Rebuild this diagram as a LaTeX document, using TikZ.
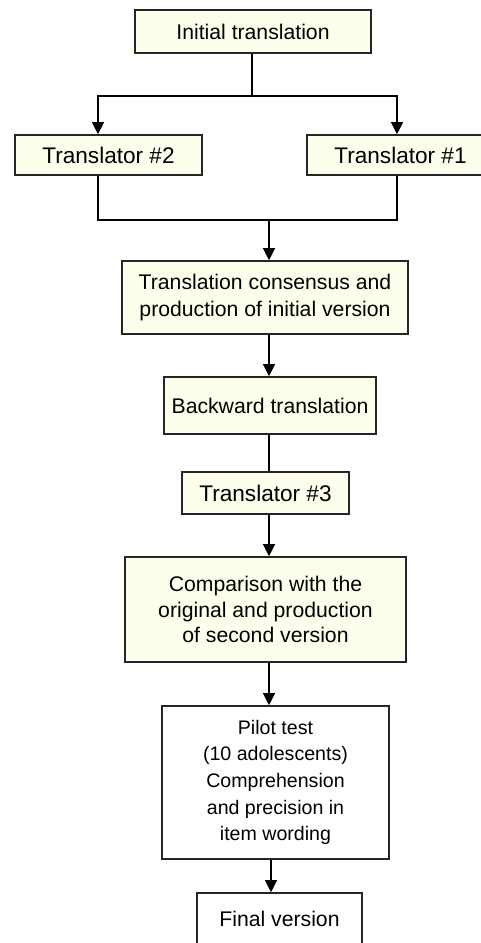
\documentclass[tikz,border=0pt]{standalone}
\usepackage{fontspec}
\setmainfont{Liberation Sans}
\usetikzlibrary{arrows.meta}
\definecolor{cBox}{RGB}{254, 254, 236}
\colorlet{cLine}{black!85!white}
\tikzset{
    boxStep/.style={
        draw=cLine,
        line width=0.8pt,
        fill=cBox,
        align=center,
        inner sep=0pt,
        font=\fontsize{10.6}{13.3}\selectfont
    },
    boxPlain/.style={
        boxStep,
        fill=white
    },
    boxTranslator/.style={
        boxStep,
        font=\fontsize{11.3}{13.3}\selectfont
    },
    edgeFlow/.style={
        arrows={-Triangle[width=6pt,length=6pt]},
        line width=0.6pt
    },
    edgeLine/.style={
        line width=0.6pt
    },
}
\begin{document}
\begin{tikzpicture}[x=0.5pt,y=-0.5pt]
    \useasboundingbox (0,0) rectangle (481,943);
    \clip (0,0) rectangle (481,943);

    \node[boxStep, minimum width=118pt, minimum height=21.5pt] (init) at (253, 31.5) {Initial translation};
    \node[boxTranslator, minimum width=93.5pt, minimum height=20pt] (tr2) at (108.5, 155) {Translator \#2};
    \node[boxTranslator, minimum width=93.5pt, minimum height=20pt] (tr1) at (400.5, 155) {Translator \#1};
    \node[boxStep, minimum width=143pt, minimum height=36.5pt] (cons) at (265, 297.5) {Translation consensus and\\production of initial version};
    \node[boxStep, minimum width=106pt, minimum height=28.5pt] (back) at (270, 405.5) {Backward translation};
    \node[boxTranslator, minimum width=83.5pt, minimum height=21pt] (tr3) at (265.5, 493) {Translator \#3};
    \node[boxStep, minimum width=140.5pt, minimum height=52.5pt, font=\fontsize{10.6}{12.75}\selectfont] (comp) at (265.5, 609.5) {Comparison with the\\original and production\\of second version};
    \node[boxPlain, minimum width=113.5pt, minimum height=76.5pt, font=\fontsize{9.8}{13.3}\selectfont] (pilot) at (275.5, 782.5) {Pilot test\\(10 adolescents)\\Comprehension\\and precision in\\item wording};
    \node[boxPlain, minimum width=82.5pt, minimum height=26pt] (final) at (279.5, 919) {Final version};

    \coordinate (split) at (252, 96);
    \coordinate (splitL) at (98, 96);
    \coordinate (splitR) at (397, 96);
    \coordinate (merge) at (269, 220);
    \coordinate (spine) at (269, 0);
    \coordinate (spineB) at (271, 0);

    \draw[edgeLine] (init.south -| split) -- (split);
    \draw[edgeFlow] (split) -| (tr2.north -| splitL);
    \draw[edgeFlow] (split) -| (tr1.north -| splitR);

    \draw[edgeLine] (tr2.south -| splitL) |- (merge);
    \draw[edgeLine] (tr1.south -| splitR) |- (merge);
    \draw[edgeFlow] (merge) -- (cons.north -| merge);

    \draw[edgeFlow] (cons.south -| spine) -- (back.north -| spine);
    \draw[edgeLine] (back.south -| spine) -- (tr3.north -| spine);
    \draw[edgeFlow] (tr3.south -| spine) -- (comp.north -| spine);
    \draw[edgeFlow] (comp.south -| spine) -- (pilot.north -| spine);
    \draw[edgeFlow] (pilot.south -| spineB) -- (final.north -| spineB);
\end{tikzpicture}
\end{document}
